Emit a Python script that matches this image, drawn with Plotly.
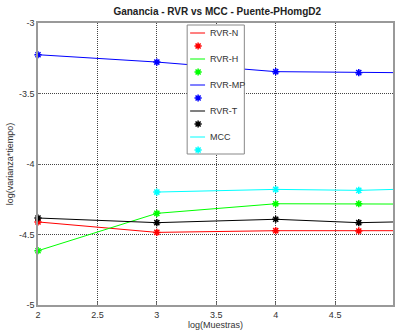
import plotly.graph_objects as go

# log10 of sample count
x_vals = [2, 3, 4, 4.699, 5]
x_mcc = [3, 4, 4.699, 5]

# log(varianza*tiempo) for each estimator
rvr_n = [-4.411, -4.485, -4.473, -4.475, -4.473]
rvr_h = [-4.615, -4.350, -4.282, -4.282, -4.284]
rvr_mp = [-3.225, -3.277, -3.345, -3.352, -3.352]
rvr_t = [-4.383, -4.416, -4.392, -4.416, -4.411]
mcc = [-4.199, -4.180, -4.187, -4.180]

names = ["RVR-N", "RVR-H", "RVR-MP", "RVR-T", "MCC"]
colors = ["#ff0000", "#00ff00", "#0000ff", "#000000", "#00ffff"]
xs_all = [x_vals, x_vals, x_vals, x_vals, x_mcc]
ys_all = [rvr_n, rvr_h, rvr_mp, rvr_t, mcc]

FONT = "Liberation Sans, Arial"
W, H = 395, 335
L, R, T, B = 38, 0, 23, 30


def star(color):
    return dict(symbol="asterisk-open", size=6, color=color,
                line=dict(color=color, width=1.5))


fig = go.Figure()
for name, xs, ys, color in zip(names, xs_all, ys_all, colors):
    fig.add_trace(go.Scatter(
        x=xs, y=ys, mode="lines+markers", name=name, showlegend=False,
        line=dict(color=color, width=1), marker=star(color),
        cliponaxis=False,
    ))

# Octave-style legend: each series gets a line row and a marker row.
# Drawn on an overlay subplot whose units are pixels of the plot area.
box_x0, box_x1, box_y0, box_y1 = 188, 245.5, 25, 154
row0, row_step = 33, 13
fig.add_trace(go.Scatter(
    x=[box_x0, box_x1, box_x1, box_x0, box_x0],
    y=[box_y0, box_y0, box_y1, box_y1, box_y0],
    mode="lines", fill="toself", fillcolor="white",
    line=dict(color="#888888", width=1),
    xaxis="x2", yaxis="y2", showlegend=False, hoverinfo="skip",
))
for i, (name, color) in enumerate(zip(names, colors)):
    y_line = row0 + 2 * i * row_step
    y_mark = y_line + row_step
    fig.add_trace(go.Scatter(
        x=[191, 206], y=[y_line, y_line], mode="lines",
        line=dict(color=color, width=1),
        xaxis="x2", yaxis="y2", showlegend=False, hoverinfo="skip",
    ))
    fig.add_trace(go.Scatter(
        x=[199], y=[y_mark], mode="markers", marker=star(color),
        xaxis="x2", yaxis="y2", showlegend=False, hoverinfo="skip",
    ))
    fig.add_annotation(
        x=209, y=y_line, xref="x2", yref="y2", text=name, showarrow=False,
        xanchor="left", yanchor="middle",
        font=dict(family=FONT, size=9, color="#333333"),
    )

axis_common = dict(
    showgrid=True, gridcolor="#444444", griddash="1px,1px", gridwidth=1,
    showline=True, linecolor="#999999", linewidth=1.5, mirror=True,
    ticks="inside", ticklen=3, tickcolor="#666666",
    tickfont=dict(family=FONT, size=9, color="#333333"),
    zeroline=False,
)

fig.update_layout(
    width=W, height=H,
    margin=dict(l=L, r=R, t=T, b=B),
    paper_bgcolor="white", plot_bgcolor="white",
    showlegend=False,
    title=dict(text="<b>Ganancia - RVR vs MCC - Puente-PHomgD2</b>",
               x=0.55, xanchor="center", y=0.965, yanchor="middle",
               font=dict(family=FONT, size=10, color="#222222")),
    xaxis=dict(range=[2, 4.987], tickvals=[2, 2.5, 3, 3.5, 4, 4.5, 5],
               ticktext=["2", "2.5", "3", "3.5", "4", "4.5", "5"],
               title=dict(text="log(Muestras)", standoff=2,
                          font=dict(family=FONT, size=9, color="#333333")),
               **axis_common),
    yaxis=dict(range=[-5, -3], tickvals=[-5, -4.5, -4, -3.5, -3],
               ticktext=["-5", "-4.5", "-4", "-3.5", "-3"],
               title=dict(text="log(varianza*tiempo)", standoff=4,
                          font=dict(family=FONT, size=9, color="#333333")),
               **axis_common),
    xaxis2=dict(overlaying="x", range=[L, W - R], visible=False,
                fixedrange=True),
    yaxis2=dict(overlaying="y", range=[H - B, T], visible=False,
                fixedrange=True),
)

fig.write_html("out.html")
